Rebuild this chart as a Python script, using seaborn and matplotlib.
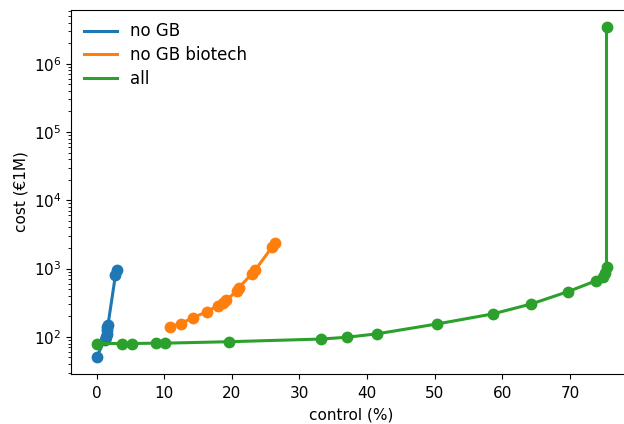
import matplotlib
matplotlib.use("Agg")
import matplotlib.pyplot as plt
from matplotlib.lines import Line2D
import pandas as pd
import seaborn as sns

# control (%) vs cost (EUR M) for each scenario
nogb_control = [0.0, 1.2, 1.4, 1.5, 1.5, 1.6, 1.7, 2.8, 3.0]
nogb_cost = [50, 90, 100, 112, 125, 140, 150, 800, 950]

nogb_bio_control = [10.8, 12.5, 14.3, 16.4, 17.9, 18.7, 19.2, 20.7, 21.0, 23.0, 23.5, 26.0, 26.4]
nogb_bio_cost = [140, 157, 192, 235, 286, 315, 350, 463, 520, 843, 965, 2090, 2390]

all_control = [0.0, 3.8, 5.3, 8.8, 10.2, 19.6, 33.2, 37.1, 41.5, 50.4, 58.6, 64.3,
               69.7, 73.9, 74.9, 75.2, 75.4, 75.4]
all_cost = [80, 80, 80, 81, 81, 85, 93, 99, 111, 155, 217, 304,
            460, 666, 760, 860, 1070, 3.5e6]

labels = ["no GB", "no GB biotech", "all"]
colors = ["#1f77b4", "#ff7f0e", "#2ca02c"]

series = [(nogb_control, nogb_cost), (nogb_bio_control, nogb_bio_cost), (all_control, all_cost)]
frames = []
for lab, (xs, ys) in zip(labels, series):
    frames.append(pd.DataFrame({"control": xs, "cost": ys, "scenario": lab}))
df = pd.concat(frames, ignore_index=True)

plt.rcParams["font.size"] = 11
fig, ax = plt.subplots(figsize=(6.24, 4.24), dpi=100)
# the original figure was cropped on the right, so the right spine falls outside
fig.subplots_adjust(left=71 / 624, right=632 / 624, top=1 - 10 / 424, bottom=1 - 374 / 424)

for lab, col in zip(labels, colors):
    sub = df[df["scenario"] == lab]
    sns.lineplot(data=sub, x="control", y="cost", sort=False, estimator=None,
                 color=col, linewidth=2.2, marker="o", markersize=8.5,
                 markeredgewidth=0, ax=ax)

ax.set_yscale("log")
ax.set_xlabel("control (%)", fontsize=11, labelpad=5)
ax.set_ylabel("cost (€1M)", fontsize=11)
ax.tick_params(labelsize=11)
ax.tick_params(axis="x", pad=5)

handles = [Line2D([0], [0], color=c, linewidth=2.2) for c in colors]
ax.legend(handles, labels, loc="upper left", frameon=False, fontsize=12,
          labelspacing=0.35, borderaxespad=0.35)

fig.savefig("out.png", dpi=100)
